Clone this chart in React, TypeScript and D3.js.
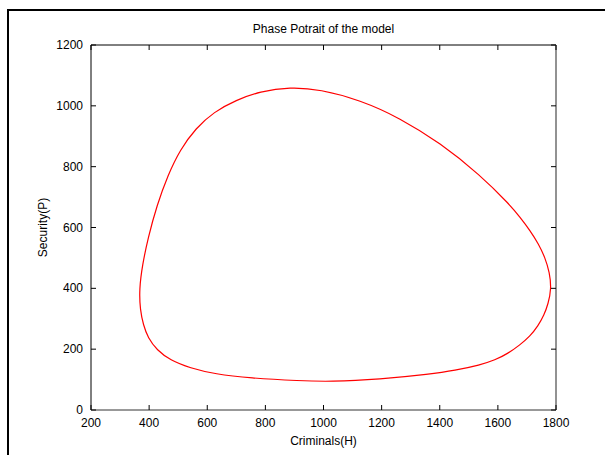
import React from "react";
import * as d3 from "d3";

const title = "Phase Potrait of the model";
const xLabel = "Criminals(H)";
const yLabel = "Security(P)";
const xTicks = [200, 400, 600, 800, 1000, 1200, 1400, 1600, 1800];
const yTicks = [0, 200, 400, 600, 800, 1000, 1200];

// Limit-cycle trajectory (H, P)
const criminalsH = [
  885, 781, 699, 623, 561, 506, 465, 427, 396, 377, 366, 369, 380, 396, 427, 472, 541, 627, 747, 919,
  1022, 1194, 1367, 1452, 1539, 1590, 1635, 1676, 1711, 1738, 1759, 1773, 1784, 1778, 1762, 1740, 1711, 1676, 1642, 1539, 1401, 1263, 1126, 988,
];
const securityP = [
  1062, 1047, 1019, 980, 927, 855, 773, 674, 565, 477, 398, 329, 280, 237, 197, 164, 138, 118, 105, 96,
  93, 101, 118, 130, 148, 164, 186, 214, 243, 276, 312, 349, 398, 452, 502, 546, 590, 634, 674, 773, 878, 960, 1019, 1054,
];

export default function App() {
  const W = 605, H = 455;
  const left = 91, right = 556, top = 45, bottom = 410;
  const x = d3.scaleLinear().domain([200, 1800]).range([left, right]);
  const y = d3.scaleLinear().domain([0, 1200]).range([bottom, top]);
  const pts: [number, number][] = criminalsH.map((h, i) => [h, securityP[i]]);
  const line = d3
    .line<[number, number]>()
    .x((d) => x(d[0]))
    .y((d) => y(d[1]))
    .curve(d3.curveBasisClosed);
  const font = "Liberation Sans, Arial, Helvetica, sans-serif";
  const tl = 5;
  return (
    <svg width={W} height={H} style={{ position: "absolute", left: 0, top: 0, background: "#fff" }} fontFamily={font}>
      <rect x={0} y={0} width={W} height={H} fill="#fff" />
      {/* figure border */}
      <line x1={8} y1={10} x2={8} y2={H} stroke="#000" strokeWidth={2} />
      <line x1={7} y1={10} x2={W} y2={10} stroke="#000" strokeWidth={2} />
      {/* curve */}
      <path d={line(pts) || ""} fill="none" stroke="#ff0000" strokeWidth={1.2} />
      {/* axes box */}
      <line x1={left} y1={top} x2={right} y2={top} stroke="#000" strokeWidth={1} />
      <line x1={left} y1={top} x2={left} y2={bottom} stroke="#000" strokeWidth={1} />
      <line x1={left} y1={bottom} x2={right} y2={bottom} stroke="#333" strokeWidth={1} />
      <line x1={right} y1={top} x2={right} y2={bottom} stroke="#777" strokeWidth={1.6} />
      {xTicks.map((t) => (
        <g key={"x" + t}>
          <line x1={x(t)} x2={x(t)} y1={bottom} y2={bottom - tl} stroke="#000" />
          <line x1={x(t)} x2={x(t)} y1={top} y2={top + tl} stroke="#000" />
          <text x={x(t)} y={423} textAnchor="middle" dominantBaseline="central" fontSize={12} fill="#000">
            {t}
          </text>
        </g>
      ))}
      {yTicks.map((t) => (
        <g key={"y" + t}>
          <line x1={left} x2={left + tl} y1={y(t)} y2={y(t)} stroke="#000" />
          <line x1={right} x2={right - tl} y1={y(t)} y2={y(t)} stroke="#000" />
          <text x={83} y={y(t)} textAnchor="end" dominantBaseline="central" fontSize={12} fill="#000">
            {t}
          </text>
        </g>
      ))}
      <text x={(left + right) / 2} y={29} textAnchor="middle" dominantBaseline="central" fontSize={12} fill="#000">
        {title}
      </text>
      <text x={(left + right) / 2} y={441} textAnchor="middle" dominantBaseline="central" fontSize={12} fill="#000">
        {xLabel}
      </text>
      <text
        transform={`translate(43,${(top + bottom) / 2}) rotate(-90)`}
        textAnchor="middle"
        dominantBaseline="central"
        fontSize={12}
        fill="#000"
      >
        {yLabel}
      </text>
    </svg>
  );
}
